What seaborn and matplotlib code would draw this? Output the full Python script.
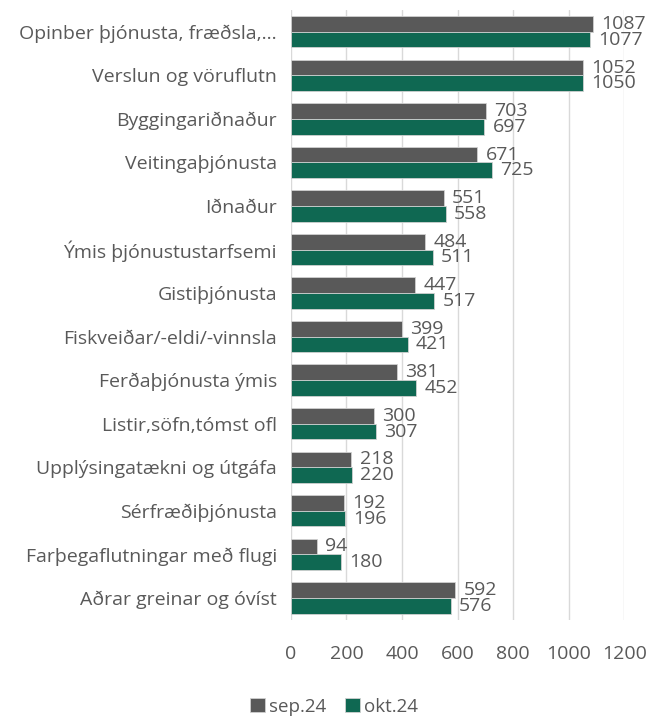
import pandas as pd
import seaborn as sns
import matplotlib.pyplot as plt

# ==============================
# Data
# ==============================
categories = [
    "Opinber þjónusta, fræðsla,...",
    "Verslun og vöruflutn",
    "Byggingariðnaður",
    "Veitingaþjónusta",
    "Iðnaður",
    "Ýmis þjónustustarfsemi",
    "Gistiþjónusta",
    "Fiskveiðar/-eldi/-vinnsla",
    "Ferðaþjónusta ýmis",
    "Listir,söfn,tómst ofl",
    "Upplýsingatækni og útgáfa",
    "Sérfræðiþjónusta",
    "Farþegaflutningar með flugi",
    "Aðrar greinar og óvíst",
]
sep24 = [1087, 1052, 703, 671, 551, 484, 447, 399, 381, 300, 218, 192, 94, 592]
okt24 = [1077, 1050, 697, 725, 558, 511, 517, 421, 452, 307, 220, 196, 180, 576]
series_names = ["sep.24", "okt.24"]

df = pd.DataFrame({"Grein": categories, "sep.24": sep24, "okt.24": okt24})
long = df.melt(id_vars="Grein", var_name="Tímabil", value_name="Fjöldi")

# ==============================
# Style
# ==============================
sns.set_style("white")
plt.rcParams["font.family"] = ["Open Sans", "DejaVu Sans"]
TEXT = "#595959"
colors = {"sep.24": "#595959", "okt.24": "#00775A"}

fig = plt.figure(figsize=(6.55, 7.18), dpi=100)
ax = fig.add_axes([0.444, 0.137, 0.509, 0.849])

sns.barplot(
    data=long,
    y="Grein",
    x="Fjöldi",
    hue="Tímabil",
    hue_order=series_names,
    order=categories,
    palette=colors,
    orient="h",
    width=0.72,
    errorbar=None,
    edgecolor="#d0d0d0",
    linewidth=0.6,
    ax=ax,
)

for cont in ax.containers:
    ax.bar_label(cont, padding=6, fontsize=14, color=TEXT)

ax.set_xlim(0, 1200)
ax.set_xticks(range(0, 1201, 200))
ax.set_ylim(13.5, -0.5)
ax.grid(axis="x", color="#d9d9d9", linewidth=1)
ax.set_axisbelow(True)
for s in ax.spines.values():
    s.set_visible(False)
ax.tick_params(axis="y", length=0, labelsize=14, labelcolor=TEXT, pad=10)
ax.tick_params(axis="x", length=0, labelsize=14, labelcolor=TEXT, pad=18)
ax.set_xlabel("")
ax.set_ylabel("")

handles, labels = ax.get_legend_handles_labels()
ax.get_legend().remove()
leg = fig.legend(
    handles,
    labels,
    loc="center",
    bbox_to_anchor=(0.51, 0.016),
    ncol=2,
    frameon=False,
    fontsize=13.5,
    handlelength=0.8,
    handleheight=0.8,
    handletextpad=0.2,
    columnspacing=1.0,
)
for t in leg.get_texts():
    t.set_color(TEXT)

fig.savefig("out.png", dpi=100)
